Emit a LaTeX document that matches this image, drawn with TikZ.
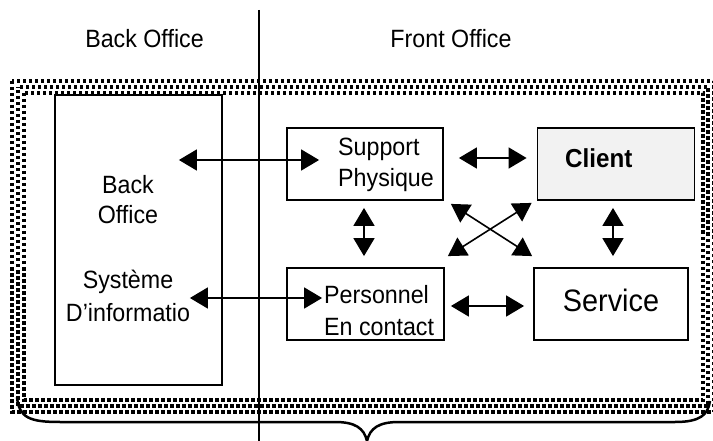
\documentclass[tikz,border=0pt]{standalone}
\usepackage{fontspec}
\setmainfont{Liberation Sans}[FakeStretch=0.93]
\usetikzlibrary{arrows.meta,calc}
\definecolor{clientfill}{RGB}{242,242,242}
\begin{document}
\begin{tikzpicture}[x=1pt,y=-1pt,
  boxstyle/.style={draw,line width=1.8pt,inner sep=0pt},
  lbl/.style={font=\fontsize{25}{31}\selectfont,inner sep=0pt,align=left},
  lblc/.style={font=\fontsize{25}{31}\selectfont,inner sep=0pt,align=center},
  dbl/.style={line width=1.6pt,{Triangle[length=18pt,width=21pt]}-{Triangle[length=18pt,width=21pt]}},
  dotrow/.style={line width=3.5pt,dash pattern=on 3.5pt off 2.5pt}]
\useasboundingbox (0,0) rectangle (713,441);

% dotted frame (three staggered rows of dots)
\draw[dotrow] (12,81) rectangle (714,412);
\draw[dotrow,dash phase=3pt] (18,87) rectangle (708,406);
\draw[dotrow] (24,93) rectangle (703,400);

% separator line
\draw[line width=2pt] (258.5,10) -- (258.5,441);

% top labels
\node[lbl,anchor=base] (tbo) at (144.5,48) {Back Office};
\node[lbl,anchor=base] (tfo) at (451,48) {Front Office};

% boxes
\node[boxstyle,minimum width=167pt,minimum height=290pt] (lb) at (138.5,240) {};
\node[boxstyle,minimum width=156pt,minimum height=72pt] (sp) at (365,164) {};
\node[boxstyle,fill=clientfill,minimum width=157pt,minimum height=72pt] (cl) at (616,164) {};
\node[boxstyle,minimum width=157pt,minimum height=72pt] (pc) at (365.5,304) {};
\node[boxstyle,minimum width=154pt,minimum height=72pt] (sv) at (611,304) {};

% texts (base = baseline of the last line)
\node[lblc,anchor=base] (t1) at (128,224) {Back\\Office};
\node[lblc,anchor=base,font=\fontsize{25}{33}\selectfont] (t2) at (128,321) {Système\\D’informatio};
\node[lbl,anchor=base west] (t3) at (338,187) {Support\\Physique};
\node[lbl,anchor=base west,font=\fontsize{25}{32}\selectfont] (t4) at (324,335) {Personnel\\En contact};
\node[lbl,anchor=base west,font=\fontsize{26}{31}\selectfont\bfseries] (t5) at (565,168) {Client};
\node[lbl,anchor=base,font=\fontsize{31}{36}\selectfont] (t6) at (611,312) {Service};

% arrows
\draw[dbl] ($(lb.east|-sp.west)+(-44,-4)$) -- ($(sp.west)+(33,-4)$);
\draw[dbl] ($(lb.east|-pc.west)+(-33,-6)$) -- ($(pc.west)+(36,-6)$);
\draw[dbl] ($(sp.east)+(15,-6)$) -- ($(cl.west)+(-10,-6)$);
\draw[dbl] ($(pc.east)+(6,2)$) -- ($(sv.west)+(-9,2)$);
\draw[dbl] ($(sp.south)+(-1,7)$) -- ($(pc.north)+(-1.5,-11)$);
\draw[dbl] ($(cl.south)+(-3,7)$) -- ($(sv.north)+(2,-11)$);
\draw[dbl] ($(sp.south east)+(7,3)$) -- ($(sv.north west)+(-1,-11)$);
\draw[dbl] ($(pc.north east)+(3,-11)$) -- ($(cl.south west)+(-5,2)$);

% brace
\draw[line width=2.5pt]
  (17,397) .. controls (19,418) and (30,422) .. (60,422) -- (335,422)
  .. controls (355,422) and (364,428) .. (367,441)
  .. controls (370,428) and (379,422) .. (399,422) -- (675,422)
  .. controls (700,422) and (708,415) .. (710,401);
\end{tikzpicture}
\end{document}
